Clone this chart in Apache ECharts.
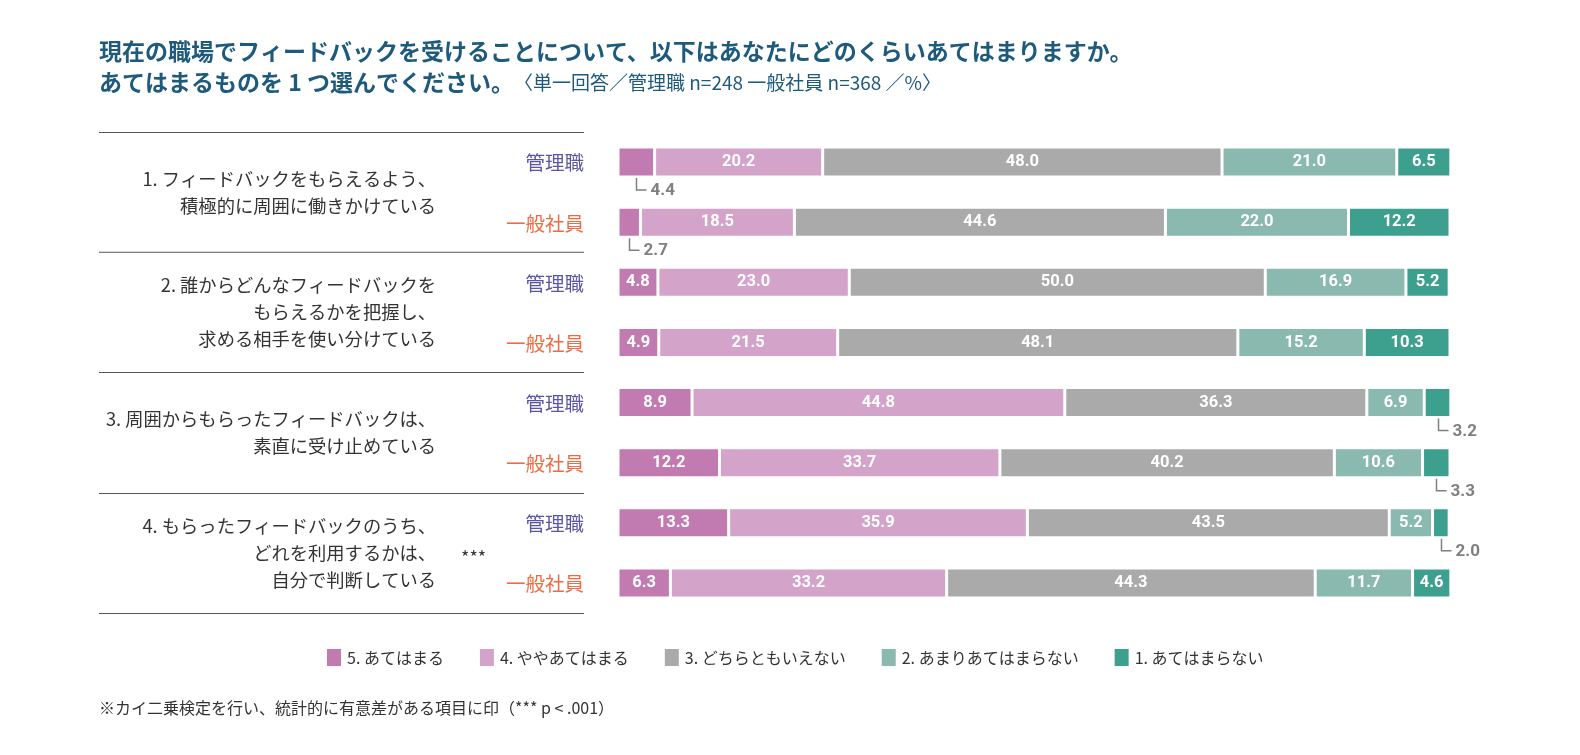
<!DOCTYPE html>
<html>
<head>
    <meta charset="utf-8">
    <title>ECharts</title>
    <script src="https://cdn.jsdelivr.net/npm/echarts@6/dist/echarts.min.js"></script>
    <style>
        html, body { margin: 0; padding: 0; background: #fff; overflow: hidden; }
        #main { width: 1580px; height: 755px; }
    </style>
</head>
<body>
<div id="main"></div>
<script type="text/javascript">
    // rows top to bottom: each question has 管理職 then 一般社員
    var groups = ['管理職', '一般社員', '管理職', '一般社員', '管理職', '一般社員', '管理職', '一般社員'];
    var questions = [
        '1. フィードバックをもらえるよう、\n積極的に周囲に働きかけている',
        '2. 誰からどんなフィードバックを\nもらえるかを把握し、\n求める相手を使い分けている',
        '3. 周囲からもらったフィードバックは、\n素直に受け止めている',
        '4. もらったフィードバックのうち、\nどれを利用するかは、\n自分で判断している'
    ];
    var seriesNames = ['5. あてはまる', '4. ややあてはまる', '3. どちらともいえない', '2. あまりあてはまらない', '1. あてはまらない'];
    var s5 = [4.4, 2.7, 4.8, 4.9, 8.9, 12.2, 13.3, 6.3];
    var s4 = [20.2, 18.5, 23.0, 21.5, 44.8, 33.7, 35.9, 33.2];
    var s3 = [48.0, 44.6, 50.0, 48.1, 36.3, 40.2, 43.5, 44.3];
    var s2 = [21.0, 22.0, 16.9, 15.2, 6.9, 10.6, 5.2, 11.7];
    var s1 = [6.5, 12.2, 5.2, 10.3, 3.2, 3.3, 2.0, 4.6];
    var colors = ['#c17bb0', '#d3a3c9', '#a9aaa9', '#89b9af', '#3da08e'];

    var numFont = "'Roboto', 'Liberation Sans', sans-serif";
    var jpFont = "'Noto Sans CJK JP', sans-serif";
    var SMALL = 4.5;   // below this the value goes under the bar

    var allValues = [s5, s4, s3, s2, s1];
    var series = allValues.map(function (vals, i) {
        return {
            name: seriesNames[i],
            type: 'bar',
            stack: 'total',
            barWidth: 30,
            clip: false,
            itemStyle: { color: colors[i], borderColor: '#fff', borderWidth: 1.5 },
            label: {
                show: true,
                position: 'inside',
                color: '#fff',
                fontFamily: numFont,
                fontWeight: 'bold',
                fontSize: 16.5,
                formatter: function (p) {
                    return p.value < SMALL ? '' : Number(p.value).toFixed(1);
                }
            },
            data: vals
        };
    });

    // callouts for the thin segments: [segment centre on x, row, value]
    var callouts = [];
    allValues.forEach(function (vals, i) {
        vals.forEach(function (v, row) {
            if (v >= SMALL) return;
            var start = 0;
            for (var k = 0; k < i; k++) start += allValues[k][row];
            callouts.push([start + v / 2, row, v]);
        });
    });

    series.push({
        type: 'custom',
        name: 'callout',
        z: 5,
        clip: false,
        encode: { x: 0, y: 1 },
        data: callouts,
        renderItem: function (params, api) {
            var pt = api.coord([api.value(0), api.value(1)]);
            var x = Math.round(pt[0]) + 0.5;
            var top = pt[1] + 16;
            var low = top + 12;
            return {
                type: 'group',
                children: [
                    {
                        type: 'polyline',
                        shape: { points: [[x, top], [x, low], [x + 10, low]] },
                        style: { stroke: '#808080', lineWidth: 1.5, fill: null }
                    },
                    {
                        type: 'text',
                        x: x + 14,
                        y: low + 1,
                        style: {
                            text: api.value(2).toFixed(1),
                            fontFamily: numFont,
                            fontWeight: 'bold',
                            fontSize: 17,
                            fill: '#808080',
                            verticalAlign: 'middle',
                            align: 'left'
                        }
                    }
                ]
            };
        }
    });

    var chart = echarts.init(document.getElementById('main'));
    var option = {
        animation: false,
        color: colors,
        title: {
            left: 99,
            top: 36,
            padding: 0,
            text: '{b|現在の職場でフィードバックを受けることについて、以下はあなたにどのくらいあてはまりますか。}\n{b|あてはまるものを 1 つ選んでください。}{n|〈単一回答／管理職 n=248 一般社員 n=368 ／%〉}',
            textStyle: {
                rich: {
                    b: { fontFamily: jpFont, fontWeight: 'bold', fontSize: 23, color: '#1d5a7c', lineHeight: 31 },
                    n: { fontFamily: jpFont, fontWeight: 'normal', fontSize: 19, color: '#1d5a7c', lineHeight: 31 }
                }
            }
        },
        legend: {
            top: 642,
            left: 320,
            icon: 'rect',
            itemWidth: 16,
            itemHeight: 19,
            itemGap: 34,
            textStyle: { fontFamily: jpFont, fontSize: 16, color: '#333' },
            data: seriesNames
        },
        grid: { left: 618, top: 132, width: 832, height: 481 },
        xAxis: { type: 'value', min: 0, max: 100, show: false },
        yAxis: [
            {
                type: 'category',
                inverse: true,
                data: groups.map(function (g, i) { return i + ':' + g; }),
                axisLine: { show: false },
                axisTick: { show: false },
                axisLabel: {
                    margin: 34,
                    align: 'right',
                    formatter: function (v, i) {
                        return groups[i] === '管理職' ? '{m|管理職}' : '{g|一般社員}';
                    },
                    rich: {
                        m: { fontFamily: jpFont, fontSize: 19.5, color: '#5a56a6', padding: [2, 0, 0, 0] },
                        g: { fontFamily: jpFont, fontSize: 19.5, color: '#ec6c45', padding: [2, 0, 0, 0] }
                    }
                }
            },
            {
                type: 'category',
                inverse: true,
                position: 'left',
                offset: 34,
                data: questions,
                axisLine: { show: false },
                axisTick: { show: true, length: 485, lineStyle: { color: '#555', width: 1.2 } },
                axisLabel: {
                    margin: 148,
                    align: 'right',
                    fontFamily: jpFont,
                    fontSize: 18.3,
                    lineHeight: 27,
                    color: '#333'
                }
            }
        ],
        graphic: [
            {
                type: 'text',
                left: 461,
                top: 548,
                style: { text: '***', fontFamily: jpFont, fontSize: 18, fill: '#333' }
            },
            {
                type: 'text',
                left: 99,
                top: 700,
                style: { text: '※カイ二乗検定を行い、統計的に有意差がある項目に印（*** p < .001）', fontFamily: jpFont, fontSize: 16, fill: '#333' }
            }
        ],
        series: series
    };
    chart.setOption(option);
</script>
</body>
</html>
